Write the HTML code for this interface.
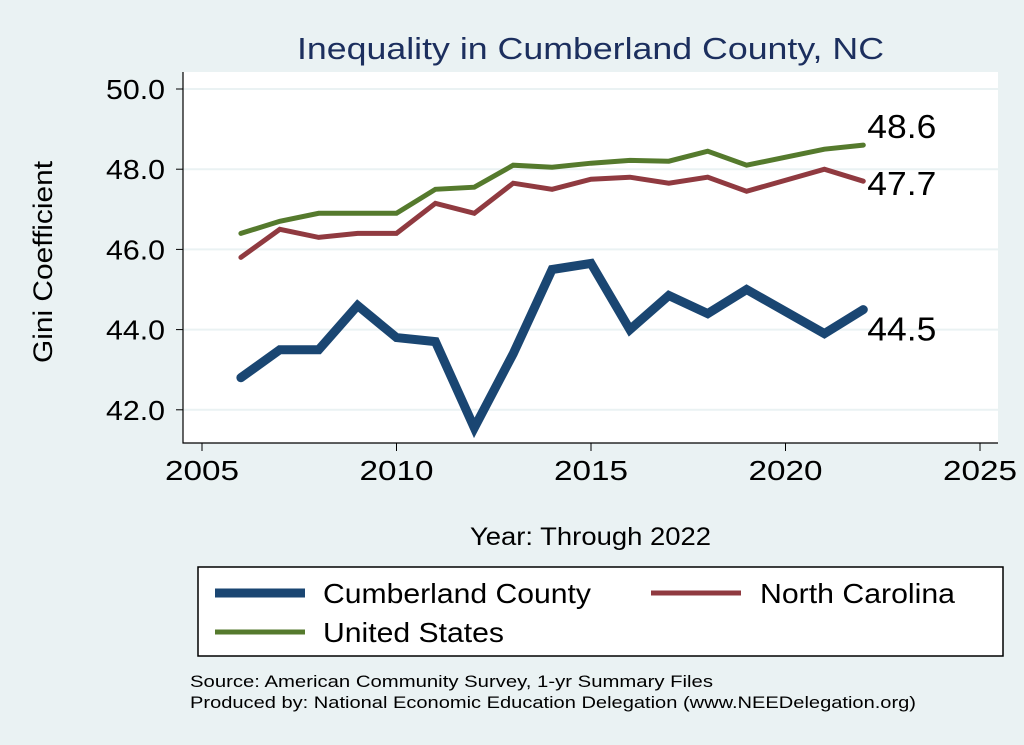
<!DOCTYPE html>
<html><head><meta charset="utf-8"><style>
body{margin:0;background:#eaf2f3;}
svg{display:block;font-family:"Liberation Sans",sans-serif;}
</style></head><body>
<svg width="1024" height="745" viewBox="0 0 1024 745">
<rect x="0" y="0" width="1024" height="745" fill="#eaf2f3"/>
<text x="297" y="59" font-size="31" textLength="587" lengthAdjust="spacingAndGlyphs" fill="#1c2f5e">Inequality in Cumberland County, NC</text>
<rect x="183" y="72" width="815" height="371" fill="#fff"/>
<g id="grid"></g>
<g id="axes"></g>
<g id="series"></g>
<text x="261" y="56" font-size="27" textLength="202" lengthAdjust="spacingAndGlyphs" text-anchor="middle" transform="rotate(-90 52 262) translate(-209 206)" fill="#000">Gini Coefficient</text>
<text x="470" y="545" font-size="25" textLength="241" lengthAdjust="spacingAndGlyphs" fill="#000">Year: Through 2022</text>
<g>
<rect x="198" y="567" width="805" height="89" fill="#fff" stroke="#000" stroke-width="1.5"/>
<line x1="215" y1="593" x2="305" y2="593" stroke="#1a4672" stroke-width="9"/>
<text x="323" y="603" font-size="28" textLength="268" lengthAdjust="spacingAndGlyphs">Cumberland County</text>
<line x1="651" y1="593" x2="741" y2="593" stroke="#903a40" stroke-width="5"/>
<text x="760" y="603" font-size="28" textLength="195" lengthAdjust="spacingAndGlyphs">North Carolina</text>
<line x1="215" y1="632" x2="305" y2="632" stroke="#557a2d" stroke-width="5"/>
<text x="323" y="642" font-size="28" textLength="181" lengthAdjust="spacingAndGlyphs">United States</text>
</g>
<text x="190" y="687" font-size="17" textLength="523" lengthAdjust="spacingAndGlyphs">Source: American Community Survey, 1-yr Summary Files</text>
<text x="190" y="708" font-size="17" textLength="726" lengthAdjust="spacingAndGlyphs">Produced by: National Economic Education Delegation (www.NEEDelegation.org)</text>
</svg>
<script>
const years=[2006,2007,2008,2009,2010,2011,2012,2013,2014,2015,2016,2017,2018,2019,2021,2022];
const cumberland=[42.8,43.5,43.5,44.6,43.8,43.7,41.55,43.4,45.5,45.65,44.0,44.85,44.4,45.0,43.9,44.5];
const northCarolina=[45.8,46.5,46.3,46.4,46.4,47.15,46.9,47.65,47.5,47.75,47.8,47.65,47.8,47.45,48.0,47.7];
const unitedStates=[46.4,46.7,46.9,46.9,46.9,47.5,47.55,48.1,48.05,48.15,48.22,48.2,48.45,48.1,48.5,48.6];
const yTicks=[42,44,46,48,50];
const xTicks=[2005,2010,2015,2020,2025];
const NS="http://www.w3.org/2000/svg";
function xs(v){return 202+(v-2005)*38.9;}
function ys(v){return 89+(50-v)*40.1;}
function mk(tag,attrs,parent,txt){const e=document.createElementNS(NS,tag);for(const k in attrs)e.setAttribute(k,attrs[k]);if(txt!==undefined)e.textContent=txt;document.getElementById(parent).appendChild(e);return e;}
yTicks.forEach(t=>{
 const g=mk('line',{x1:183,x2:998,y1:ys(t),y2:ys(t),stroke:'#eaf2f3','stroke-width':2},'grid');
 
 
 const tk=mk('line',{x1:176,x2:183,y1:ys(t),y2:ys(t),stroke:'#000','stroke-width':1},'axes');
 
 
 const lb=mk('text',{x:106,y:ys(t)+10,'font-size':28,textLength:59,lengthAdjust:'spacingAndGlyphs'},'axes',t.toFixed(1));
 
 
});
xTicks.forEach(t=>{
 const tk=mk('line',{x1:xs(t),x2:xs(t),y1:443,y2:451,stroke:'#000','stroke-width':1},'axes');
 
 
 const lb=mk('text',{x:xs(t)-37,y:480,'font-size':28,textLength:74,lengthAdjust:'spacingAndGlyphs'},'axes',String(t));
 
 
});
const ax=mk('path',{d:'M183 72 V443 H998',fill:'none',stroke:'#000','stroke-width':1.2},'axes');


function line(vals,color,w,name,dy){
 const d=vals.map((v,i)=>(i?'L':'M')+xs(years[i]).toFixed(1)+' '+ys(v).toFixed(1)).join(' ');
 const p=mk('path',{d:d,fill:'none',stroke:color,'stroke-width':w,'stroke-linejoin':'miter','stroke-linecap':'round'},'series');
 
 
 const last=vals[vals.length-1];
 const lb=mk('text',{x:xs(years[years.length-1])+4,y:ys(last)+dy,'font-size':33,textLength:69,lengthAdjust:'spacingAndGlyphs'},'series',last.toFixed(1));
 
 
}
line(unitedStates,'#557a2d',5,'us-line',-7);
line(northCarolina,'#903a40',5,'nc-line',14);
line(cumberland,'#1a4672',9,'cumberland-line',31);
</script>
</body></html>
